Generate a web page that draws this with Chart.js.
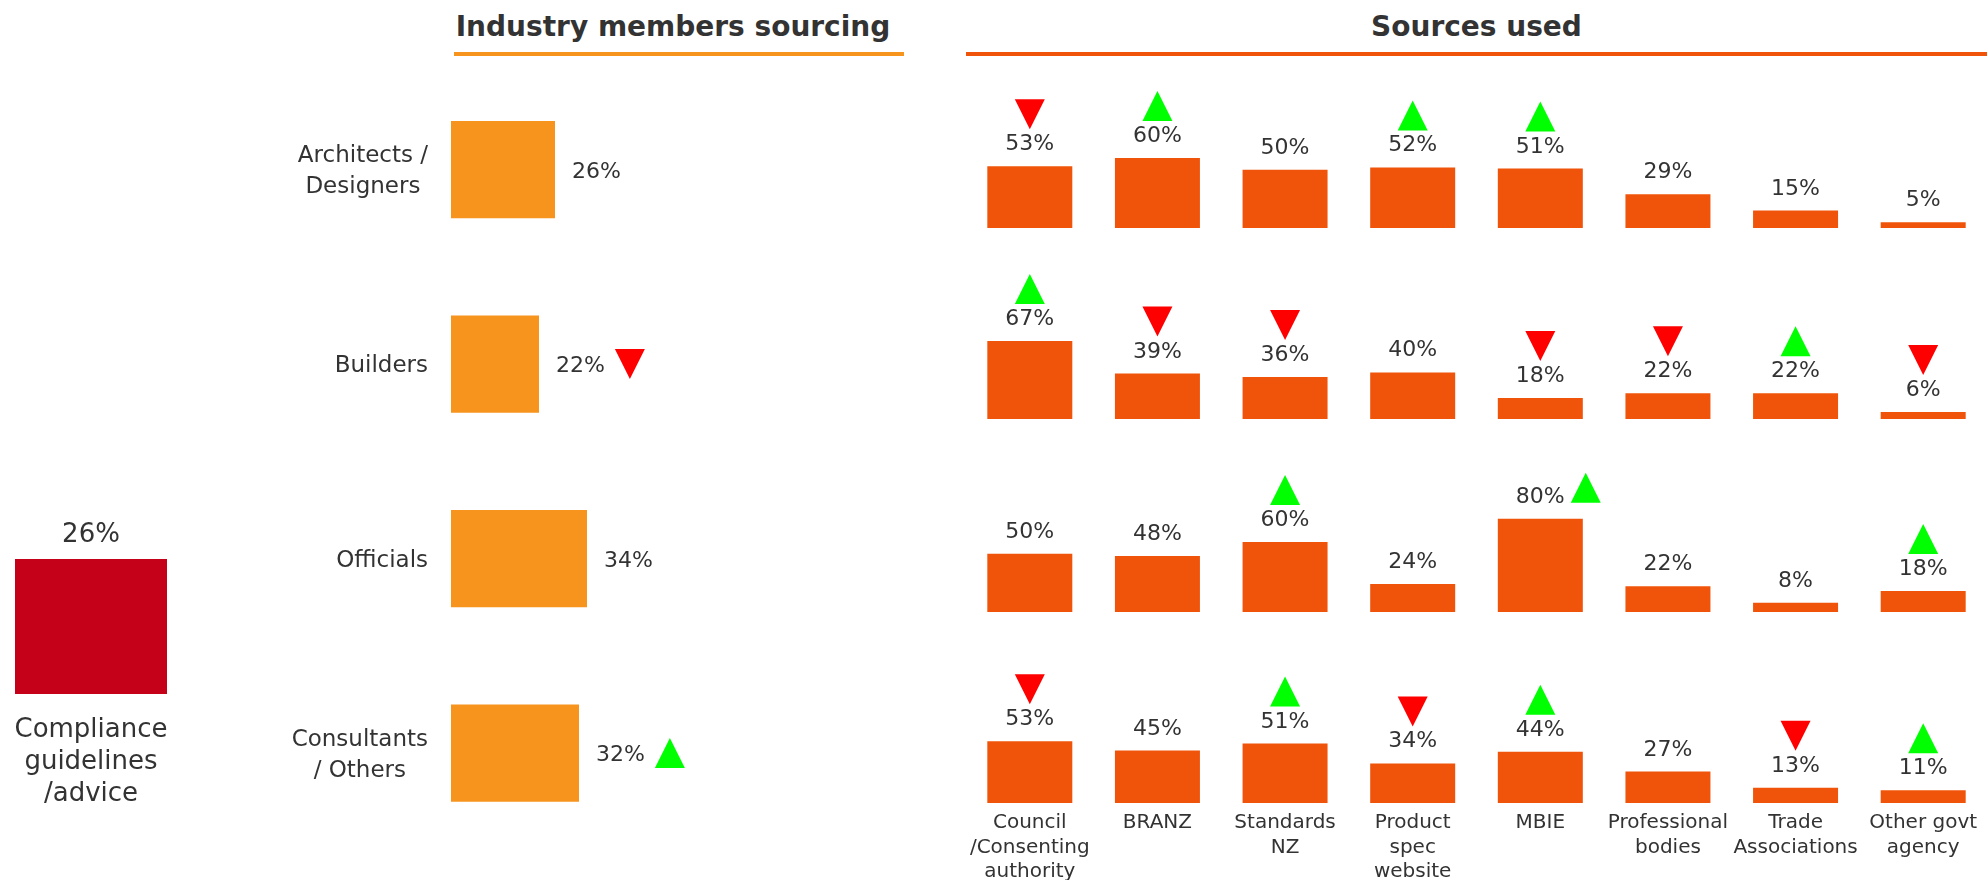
<!DOCTYPE html>
<html>
<head>
<meta charset="utf-8">
<script src="https://cdn.jsdelivr.net/npm/chart.js@4.4.1/dist/chart.umd.min.js"></script>
<style>
    body {
        margin: 0;
        width: 1987px;
        height: 880px;
        overflow: hidden;
        position: relative;
        background: #ffffff;
        font-family: "DejaVu Sans", sans-serif;
        color: #333333;
    }
    canvas, .titulo, .linha {
        position: absolute;
    }
    .titulo {
        top: 13px;
        font-size: 28px;
        font-weight: bold;
        line-height: 1;
        text-align: center;
        white-space: nowrap;
    }
    .linha {
        top: 52px;
        height: 4px;
    }
</style>
</head>
<body>

<div class="titulo" style="left:454px; width:438px;">Industry members sourcing</div>
<div class="linha" style="left:454px; width:450px; background:#F7941E;"></div>
<div class="titulo" style="left:966px; width:1021px;">Sources used</div>
<div class="linha" style="left:966px; width:1021px; background:#F0540A;"></div>

<canvas id="graficoTotal" width="182" height="400" style="left:0; top:480px;"></canvas>
<canvas id="graficoSegmentos" width="700" height="820" style="left:200px; top:60px;"></canvas>
<canvas id="graficoLinha1" width="1021" height="180" style="left:966px; top:60px;"></canvas>
<canvas id="graficoLinha2" width="1021" height="190" style="left:966px; top:240px;"></canvas>
<canvas id="graficoLinha3" width="1021" height="195" style="left:966px; top:430px;"></canvas>
<canvas id="graficoLinha4" width="1021" height="255" style="left:966px; top:625px;"></canvas>

<script>
// dados
const totalRotulo = [["Compliance", "guidelines", "/advice"]];
const totalValor = [26];

const segmentos = [["Architects /", "Designers"], ["Builders"], ["Officials"], ["Consultants", "/ Others"]];
const segmentosValores = [26, 22, 34, 32];
const segmentosSetas = ["", "down", "", "up"];

const fontesUsadas = [
    ["Council", "/Consenting", "authority"], "BRANZ", ["Standards", "NZ"], ["Product", "spec", "website"],
    "MBIE", ["Professional", "bodies"], ["Trade", "Associations"], ["Other govt", "agency"]
];

const arquitetos = [53, 60, 50, 52, 51, 29, 15, 5];
const arquitetosSetas = ["down", "up", "", "up", "up", "", "", ""];
const construtores = [67, 39, 36, 40, 18, 22, 22, 6];
const construtoresSetas = ["up", "down", "down", "", "down", "down", "up", "down"];
const oficiais = [50, 48, 60, 24, 80, 22, 8, 18];
const oficiaisSetas = ["", "", "up", "", "up-lado", "", "", "up"];
const consultores = [53, 45, 51, 34, 44, 27, 13, 11];
const consultoresSetas = ["down", "", "up", "down", "up", "", "down", "up"];

const fonte = '"DejaVu Sans", sans-serif';
const corTexto = "#333333";

// triangulo de 30x30, "base" e a parte de baixo da caixa
function desenharSeta(ctx, tipo, cx, base) {
    ctx.beginPath();
    if (tipo === "down") {
        ctx.fillStyle = "#FF0000";
        ctx.moveTo(cx - 15, base - 30);
        ctx.lineTo(cx + 15, base - 30);
        ctx.lineTo(cx, base);
    } else {
        ctx.fillStyle = "#00FF00";
        ctx.moveTo(cx - 15, base);
        ctx.lineTo(cx + 15, base);
        ctx.lineTo(cx, base - 30);
    }
    ctx.closePath();
    ctx.fill();
}

// rotulos em cima das colunas + setas
const rotulosColunas = {
    id: "rotulosColunas",
    afterDatasetsDraw(chart, args, opts) {
        const ctx = chart.ctx;
        const valores = chart.data.datasets[0].data;
        const setas = opts.setas || [];
        ctx.save();
        ctx.font = opts.fonte;
        ctx.textAlign = "center";
        ctx.textBaseline = "alphabetic";
        chart.getDatasetMeta(0).data.forEach((barra, i) => {
            const texto = valores[i] + "%";
            const base = barra.y - opts.distancia;
            ctx.fillStyle = corTexto;
            ctx.fillText(texto, barra.x, base);
            const seta = setas[i];
            if (!seta) return;
            if (seta === "up-lado") {
                const largura = ctx.measureText(texto).width;
                desenharSeta(ctx, "up", barra.x + largura / 2 + 6 + 15, base);
            } else {
                desenharSeta(ctx, seta, barra.x, base - 21);
            }
        });
        ctx.restore();
    }
};

// rotulos a direita das barras horizontais + nomes dos segmentos
const rotulosSegmentos = {
    id: "rotulosSegmentos",
    afterDatasetsDraw(chart, args, opts) {
        const ctx = chart.ctx;
        const valores = chart.data.datasets[0].data;
        ctx.save();
        ctx.font = "22px " + fonte;
        ctx.textAlign = "left";
        chart.getDatasetMeta(0).data.forEach((barra, i) => {
            const texto = valores[i] + "%";
            const inicio = barra.x + 17;
            ctx.fillStyle = corTexto;
            ctx.fillText(texto, inicio, barra.y + 8);
            const seta = opts.setas[i];
            if (seta) {
                const largura = ctx.measureText(texto).width;
                desenharSeta(ctx, seta, inicio + largura + 10 + 15, barra.y + 15);
            }
        });

        // nomes centralizados entre si, bloco alinhado a direita
        ctx.font = "23px " + fonte;
        ctx.textAlign = "center";
        ctx.fillStyle = corTexto;
        const eixoY = chart.scales.y;
        chart.data.labels.forEach((linhas, i) => {
            const centro = eixoY.getPixelForValue(i);
            const maior = Math.max(...linhas.map(l => ctx.measureText(l).width));
            const cx = chart.chartArea.left - 23 - maior / 2;
            linhas.forEach((l, j) => {
                ctx.fillText(l, cx, centro + (j - (linhas.length - 1) / 2) * 31 + 8);
            });
        });
        ctx.restore();
    }
};

function opcoesBase() {
    return {
        responsive: false,
        animation: false,
        events: [],
        plugins: {
            legend: { display: false },
            tooltip: { enabled: false }
        }
    };
}

// eixo x so com os nomes; o espaco vem do tickLength (padding empurraria as barras)
function eixoNomes(tamanho, alturaLinha, distancia, alturaEixo) {
    return {
        grid: { display: false, drawTicks: true, tickLength: distancia },
        border: { display: false },
        ticks: {
            color: corTexto,
            font: { family: fonte, size: tamanho, lineHeight: alturaLinha },
            padding: 0,
            maxRotation: 0,
            autoSkip: false
        },
        afterFit: (escala) => { escala.height = alturaEixo; }
    };
}

function criarTotal() {
    const opcoes = opcoesBase();
    opcoes.layout = { padding: { left: 15, right: 15, top: 79, bottom: 0 } };
    opcoes.plugins.rotulosColunas = { fonte: "26px " + fonte, distancia: 17 };
    opcoes.scales = {
        x: eixoNomes(26, 1.23, 20, 186),
        y: { display: false, min: 0, max: totalValor[0] }
    };

    return new Chart(document.getElementById("graficoTotal").getContext("2d"), {
        type: "bar",
        data: {
            labels: totalRotulo,
            datasets: [{
                data: totalValor,
                backgroundColor: "#C50019",
                borderWidth: 0,
                barPercentage: 1,
                categoryPercentage: 1
            }]
        },
        options: opcoes,
        plugins: [rotulosColunas]
    });
}

function criarSegmentos() {
    const opcoes = opcoesBase();
    opcoes.indexAxis = "y";
    opcoes.layout = { padding: { left: 251, right: 49, top: 12.25, bottom: 29.75 } };
    opcoes.plugins.rotulosSegmentos = { setas: segmentosSetas };
    opcoes.scales = {
        x: { display: false, min: 0, max: 100 },
        y: { display: false }
    };

    return new Chart(document.getElementById("graficoSegmentos").getContext("2d"), {
        type: "bar",
        data: {
            labels: segmentos,
            datasets: [{
                data: segmentosValores,
                backgroundColor: "#F7941E",
                borderWidth: 0,
                barPercentage: 1,
                categoryPercentage: 0.5
            }]
        },
        options: opcoes,
        plugins: [rotulosSegmentos]
    });
}

// uma linha do painel "Sources used"; 100% = 116.5px de altura
function criarLinha(canvasId, valores, setas, folgaBaixo, comEixo) {
    const canvas = document.getElementById(canvasId);
    const altura = 116.5;
    const opcoes = opcoesBase();
    opcoes.layout = {
        padding: {
            left: 0,
            right: 0,
            top: canvas.height - folgaBaixo - altura,
            bottom: comEixo ? 0 : folgaBaixo
        }
    };
    opcoes.plugins.rotulosColunas = { fonte: "22px " + fonte, distancia: 16, setas: setas };
    opcoes.scales = {
        x: comEixo ? eixoNomes(20, 1.225, 8, folgaBaixo) : { display: false },
        y: { display: false, min: 0, max: 100 }
    };

    return new Chart(canvas.getContext("2d"), {
        type: "bar",
        data: {
            labels: fontesUsadas,
            datasets: [{
                data: valores,
                backgroundColor: "#F0540A",
                borderWidth: 0,
                barPercentage: 1,
                categoryPercentage: 0.666
            }]
        },
        options: opcoes,
        plugins: [rotulosColunas]
    });
}

window.onload = function () {
    criarTotal();
    criarSegmentos();
    criarLinha("graficoLinha1", arquitetos, arquitetosSetas, 12, false);
    criarLinha("graficoLinha2", construtores, construtoresSetas, 11, false);
    criarLinha("graficoLinha3", oficiais, oficiaisSetas, 13, false);
    criarLinha("graficoLinha4", consultores, consultoresSetas, 77, true);
};
</script>
</body>
</html>
